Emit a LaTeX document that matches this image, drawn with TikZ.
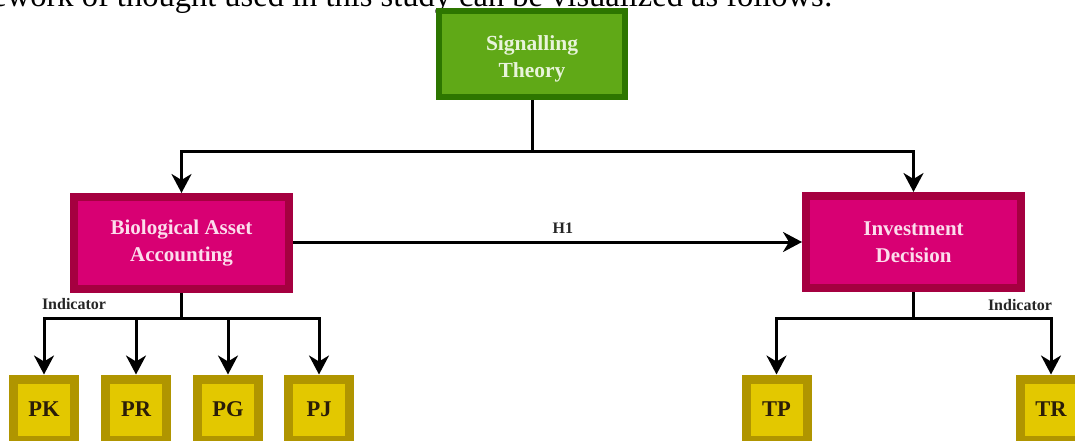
\documentclass[tikz,border=0pt]{standalone}
\usepackage{fontspec}
\setmainfont{Liberation Serif}
\usetikzlibrary{arrows.meta}
\definecolor{grfill}{HTML}{60A917}
\definecolor{grdraw}{HTML}{2D7600}
\definecolor{grtext}{HTML}{E8F4DA}
\definecolor{mgfill}{HTML}{D80073}
\definecolor{mgdraw}{HTML}{A50040}
\definecolor{mgtext}{HTML}{FCDDEC}
\definecolor{gdfill}{HTML}{E3C800}
\definecolor{gddraw}{HTML}{B09500}
\definecolor{gdtext}{HTML}{2B1D08}
\tikzset{
  theorybox/.style={draw=grdraw, fill=grfill, line width=6pt, minimum width=186pt, minimum height=86pt,
    inner sep=0pt},
  theorytext/.style={inner sep=0pt, align=center, text=grtext, font=\bfseries\fontsize{21.5}{27.5}\selectfont},
  varbox/.style={draw=mgdraw, fill=mgfill, line width=8pt, minimum width=215pt, minimum height=92pt,
    inner sep=0pt, align=center, text=mgtext, font=\bfseries\fontsize{21}{27.5}\selectfont},
  indbox/.style={draw=gddraw, fill=gdfill, line width=9pt, minimum width=61pt, minimum height=61pt,
    inner sep=0pt, text=gdtext, font=\bfseries\fontsize{22.5}{24}\selectfont},
  conn/.style={draw=black, line width=3pt},
  arr/.style={conn, -{Stealth[length=19pt,width=20pt,inset=6pt]}},
  lbl/.style={font=\bfseries\fontsize{16}{18}\selectfont, text=black!85, inner sep=0pt}
}
\begin{document}
\begin{tikzpicture}[x=1pt,y=-1pt]
\useasboundingbox (0,0) rectangle (1075,441);
\clip (0,0) rectangle (1075,441);
\fill[white] (0,0) rectangle (1075,441);

\node[anchor=base east, inner sep=0pt, font=\fontsize{32.5}{34}\selectfont] (intro) at (833,7)
  {framework of thought used in this study can be visualized as follows:};

\node[theorybox] (sig) at (532,54) {};
\node[theorytext] (sigtext) at (532,59) {Signalling\\Theory};
\node[varbox] (bio) at (181.5,243) {Biological Asset\\Accounting};
\node[varbox] (inv) at (913.5,242) {Investment\\Decision};

\node[indbox] (pk) at (44,409.5) {PK};
\node[indbox] (pr) at (136,409.5) {PR};
\node[indbox] (pg) at (228,409.5) {PG};
\node[indbox] (pj) at (319,409.5) {PJ};
\node[indbox] (tp) at (776.5,409.5) {TP};
\node[indbox] (tr) at (1051,409.5) {TR};

\coordinate (j1) at (532,151);
\draw[conn] (sig.south) -- (j1);
\draw[arr] (j1) -| (bio.north);
\draw[arr] (j1) -| (inv.north);

\draw[arr] (bio.east |- inv.west) -- node[lbl, pos=0.53, yshift=14pt] (h1) {H1} (inv.west);

\coordinate (jb) at (181.5,318);
\draw[conn] (bio.south) -- (jb);
\draw[arr] (jb) -| (pk.north);
\draw[arr] (jb) -| (pj.north);
\draw[arr] (pr.north |- jb) -- (pr.north);
\draw[arr] (pg.north |- jb) -- (pg.north);

\coordinate (ji) at (913.5,318);
\draw[conn] (inv.south) -- (ji);
\draw[arr] (ji) -| (tp.north);
\draw[arr] (ji) -| (tr.north);

\node[lbl] (indl) at (74,304) {Indicator};
\node[lbl] (indr) at (1020,305) {Indicator};
\end{tikzpicture}
\end{document}
